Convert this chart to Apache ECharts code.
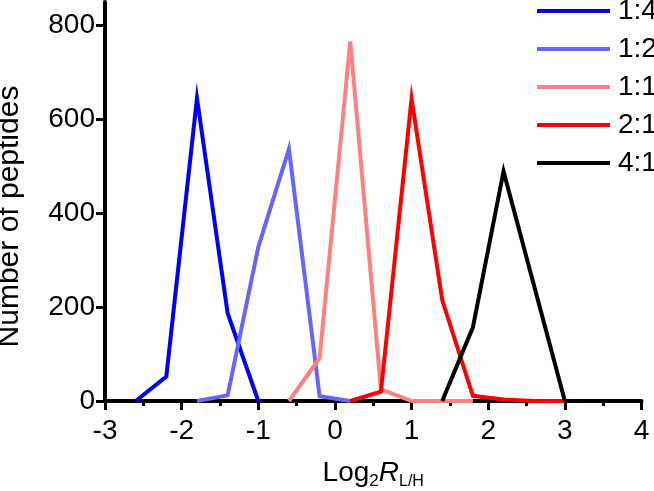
<!DOCTYPE html>
<html>
<head>
<meta charset="utf-8">
<script src="https://cdn.jsdelivr.net/npm/echarts@6/dist/echarts.min.js"></script>
<style>html,body{margin:0;padding:0;background:#fff}#c{width:654px;height:491px}</style>
</head>
<body>
<div id="c"></div>
<script>
var seriesNames = ['1:4', '1:2', '1:1', '2:1', '4:1'];
var seriesColors = ['#0000f5', '#6666ff', '#ff8080', '#ff0000', '#000000'];
var x14 = [-2.6, -2.2, -1.8, -1.4, -1.0];
var y14 = [0, 52, 645, 187, 0];
var x12 = [-1.8, -1.4, -1.0, -0.6, -0.2, 0.2];
var y12 = [0, 12, 328, 537, 10, 0];
var x11 = [-0.6, -0.2, 0.2, 0.6, 1.0, 1.4, 1.8];
var y11 = [0, 91, 766, 25, 0, 0, 0];
var x21 = [0.2, 0.6, 1.0, 1.4, 1.8, 2.2, 2.6, 3.0];
var y21 = [0, 20, 644, 215, 11, 3, 0, 0];
var x41 = [1.4, 1.8, 2.2, 3.0];
var y41 = [0, 157, 489, 0];
var yTicks = [0, 200, 400, 600, 800];

var xs = [x14, x12, x11, x21, x41];
var ys = [y14, y12, y11, y21, y41];
var FONT = 'Liberation Sans, Arial, sans-serif';

function pairs(a, b) { return a.map(function (v, i) { return [v, b[i]]; }); }

var chart = echarts.init(document.getElementById('c'));
chart.setOption({
  animation: false,
  backgroundColor: '#fff',
  textStyle: { fontFamily: FONT },
  grid: { left: 105, right: 12.5, top: 2, bottom: 90, containLabel: false, outerBoundsMode: 'none' },
  legend: {
    left: 532, top: -8, orient: 'vertical',
    icon: 'rect', itemWidth: 73, itemHeight: 4, itemGap: 10,
    textStyle: { fontSize: 28, color: '#000', fontFamily: FONT, lineHeight: 28, padding: [0, 0, 0, 3] },
    data: seriesNames
  },
  xAxis: {
    type: 'value', min: -3, max: 4, interval: 1,
    axisLine: { onZero: false, lineStyle: { color: '#000', width: 4 } },
    axisTick: { length: 9, lineStyle: { width: 3, color: '#000' } },
    minorTick: { show: true, splitNumber: 2, length: 5, lineStyle: { width: 3, color: '#000' } },
    splitLine: { show: false },
    axisLabel: { fontSize: 28, color: '#000', margin: 16, fontFamily: FONT },
    name: '{n|Log}{s|2}{i|R}{t|L/H}',
    nameLocation: 'middle', nameGap: 55,
    nameTextStyle: {
      rich: {
        n: { fontSize: 28, color: '#000', fontFamily: FONT, lineHeight: 34, verticalAlign: 'middle' },
        i: { fontSize: 28, color: '#000', fontFamily: FONT, fontStyle: 'italic', lineHeight: 34, verticalAlign: 'middle' },
        s: { fontSize: 17, color: '#000', fontFamily: FONT, lineHeight: 14, verticalAlign: 'bottom' },
        t: { fontSize: 16, color: '#000', fontFamily: FONT, lineHeight: 10, verticalAlign: 'bottom' }
      }
    }
  },
  yAxis: {
    type: 'value', min: 0, max: 850,
    axisLine: { show: true, onZero: false, lineStyle: { color: '#000', width: 4 } },
    axisTick: { show: true, length: 9, lineStyle: { width: 3, color: '#000' }, customValues: yTicks },
    splitLine: { show: false },
    axisLabel: { fontSize: 28, color: '#000', margin: 10, fontFamily: FONT, customValues: yTicks },
    name: 'Number of peptides',
    nameLocation: 'middle', nameGap: 80,
    nameTextStyle: { fontSize: 30, color: '#000', fontFamily: FONT, padding: [0, 30, 0, 0] }
  },
  series: seriesNames.map(function (n, k) {
    return {
      name: n, type: 'line', symbol: 'none',
      data: pairs(xs[k], ys[k]),
      color: seriesColors[k],
      lineStyle: { width: 4, color: seriesColors[k], join: 'miter' },
      z: 2 + k
    };
  })
});
</script>
</body>
</html>
